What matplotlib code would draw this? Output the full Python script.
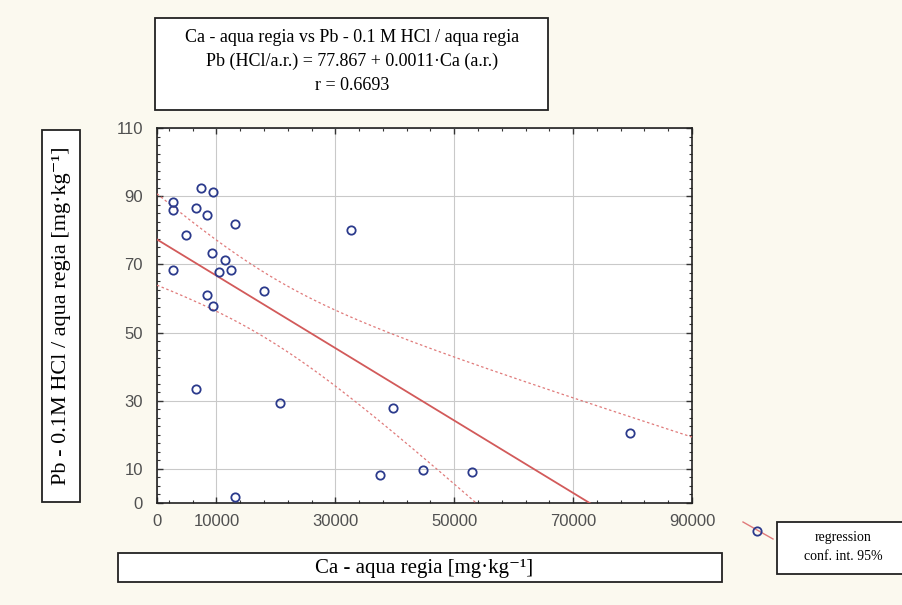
import numpy as np
import matplotlib
matplotlib.use("Agg")
import matplotlib.pyplot as plt
from matplotlib.patches import Rectangle
from matplotlib.lines import Line2D
from matplotlib.ticker import MultipleLocator, FixedLocator

# Ca in aqua regia [mg/kg] vs Pb 0.1M HCl / aqua regia ratio
ca = np.array([2640, 2640, 7400, 9370, 6560, 8360, 13180, 4830, 32640, 2640,
               9300, 11440, 10480, 12400, 8360, 9370, 18000, 6560, 20750,
               39650, 37500, 13180, 44800, 52940, 79580])
pb = np.array([88.4, 85.9, 92.3, 91.3, 86.4, 84.5, 81.7, 78.6, 80.1, 68.3,
               73.4, 71.3, 67.8, 68.3, 61.0, 57.8, 62.2, 33.3, 29.2,
               27.8, 8.2, 1.8, 9.7, 9.2, 20.6])

x_ticks = [0, 10000, 30000, 50000, 70000, 90000]
y_ticks = [0, 10, 30, 50, 70, 90, 110]

title_lines = ["Ca - aqua regia vs Pb - 0.1 M HCl / aqua regia",
               "Pb (HCl/a.r.) = 77.867 + 0.0011·Ca (a.r.)",
               "r = 0.6693"]
xlabel = "Ca - aqua regia [mg·kg⁻¹]"
ylabel = "Pb - 0.1M HCl / aqua regia [mg·kg⁻¹]"
t_crit = 2.069  # t(0.975, n-2)

serif = ["Liberation Serif", "DejaVu Serif"]
bg = "#fbf9ef"

# regression + 95% confidence band of the mean
slope, intercept = np.polyfit(ca, pb, 1)
n = len(ca)
resid = pb - (intercept + slope * ca)
s = np.sqrt(np.sum(resid ** 2) / (n - 2))
sxx = np.sum((ca - ca.mean()) ** 2)
xs = np.linspace(0, 90000, 200)
ys = intercept + slope * xs
half = t_crit * s * np.sqrt(1 / n + (xs - ca.mean()) ** 2 / sxx)

fig = plt.figure(figsize=(9.03, 6.05), dpi=100, facecolor=bg)
ax = fig.add_axes([157 / 903, 1 - 503 / 605, 535 / 903, 375 / 605])
ax.set_facecolor("white")

ax.plot(xs, ys, color="#d25a5a", lw=1.3, zorder=3)
ax.plot(xs, ys + half, color="#e07a7a", lw=0.9, ls=(0, (2, 2)), zorder=3)
ax.plot(xs, ys - half, color="#e07a7a", lw=0.9, ls=(0, (2, 2)), zorder=3)
ax.plot(ca, pb, "o", mfc="none", mec="#2b3a8c", ms=6, mew=1.3, zorder=4)

ax.set_xlim(0, 90000)
ax.set_ylim(0, 110)
ax.xaxis.set_major_locator(FixedLocator(x_ticks))
ax.yaxis.set_major_locator(FixedLocator(y_ticks))
ax.xaxis.set_minor_locator(MultipleLocator(4000, offset=2000))
ax.yaxis.set_minor_locator(MultipleLocator(2.5))
ax.grid(True, which="major", color="#c9c9c9", lw=0.8)
ax.tick_params(which="both", direction="in", top=True, right=True,
               color="#333333")
ax.tick_params(which="major", length=4, width=1)
ax.tick_params(which="minor", length=2.5, width=0.8)
ax.tick_params(axis="x", pad=8)
ax.tick_params(axis="y", pad=10)
for lab in ax.get_xticklabels() + ax.get_yticklabels():
    lab.set_fontfamily("Liberation Sans")
    lab.set_fontsize(12)
    lab.set_color("#505050")
for sp in ax.spines.values():
    sp.set_color("#222222")
    sp.set_linewidth(1.2)

# title box
fig.add_artist(Rectangle((155 / 903, 1 - 110 / 605), 393 / 903, 92 / 605,
                         transform=fig.transFigure, fc="white", ec="#222222", lw=1.3))
for i, line in enumerate(title_lines):
    fig.text(352 / 903, 1 - (37 + 24 * i) / 605, line, ha="center", va="center",
             family=serif, fontsize=13)

# y label box
fig.add_artist(Rectangle((42 / 903, 1 - 502 / 605), 38 / 903, 372 / 605,
                         transform=fig.transFigure, fc="white", ec="#222222", lw=1.3))
fig.text(62 / 903, 1 - 316 / 605, ylabel, rotation=90, ha="center", va="center",
         family=serif, fontsize=16)

# x label box
fig.add_artist(Rectangle((118 / 903, 1 - 582 / 605), 604 / 903, 29 / 605,
                         transform=fig.transFigure, fc="white", ec="#222222", lw=1.3))
fig.text(424 / 903, 1 - 569 / 605, xlabel, ha="center", va="center",
         family=serif, fontsize=15)

# legend
fig.add_artist(Line2D([743 / 903, 773 / 903], [1 - 522 / 605, 1 - 539 / 605],
                      transform=fig.transFigure, color="#e07a7a", lw=1))
fig.add_artist(Line2D([757 / 903], [1 - 531 / 605], transform=fig.transFigure,
                      marker="o", mfc="none", mec="#2b3a8c", ms=6, mew=1.3))
fig.add_artist(Rectangle((777 / 903, 1 - 574 / 605), 140 / 903, 52 / 605,
                         transform=fig.transFigure, fc="white", ec="#222222", lw=1.3))
fig.text(843 / 903, 1 - 537 / 605, "regression", ha="center", va="center",
         family=serif, fontsize=10)
fig.text(843 / 903, 1 - 556 / 605, "conf. int. 95%", ha="center", va="center",
         family=serif, fontsize=10)

fig.savefig("out.png", dpi=100, facecolor=bg)
